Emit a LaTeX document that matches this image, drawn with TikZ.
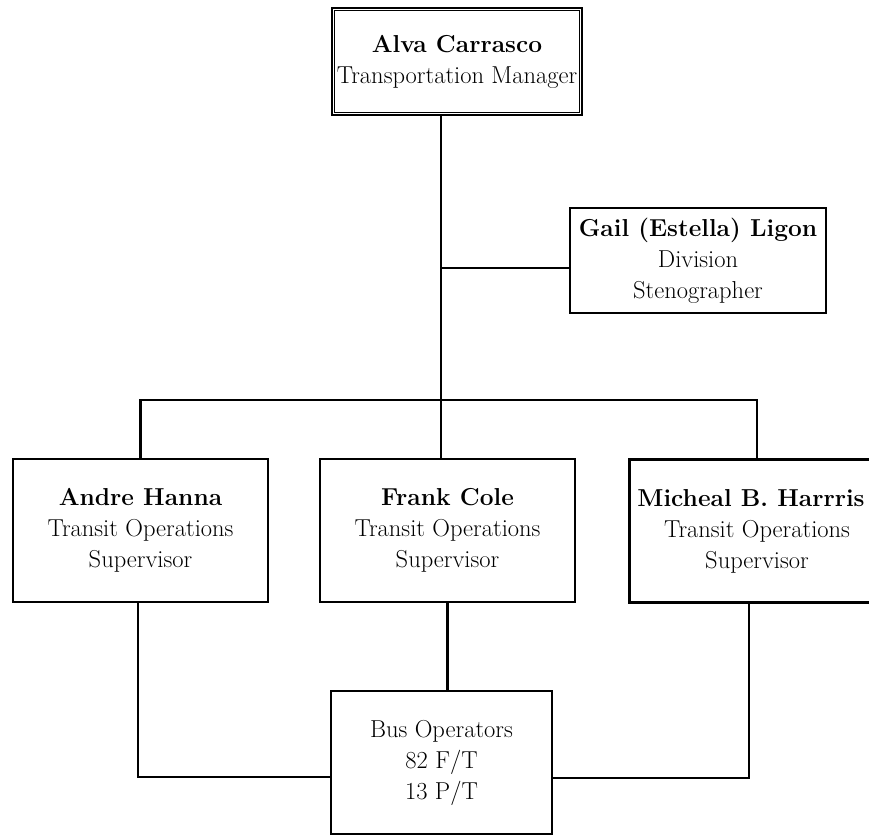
\documentclass[tikz,border=0pt]{standalone}
\usetikzlibrary{positioning}

\begin{document}
\begin{tikzpicture}[x=1pt, y=-1pt, line width=2.2pt,
  box/.style={draw, align=center, inner sep=1pt, font=\fontsize{24.5}{31}\selectfont},
  supbox/.style={box, minimum width=255pt, minimum height=143pt}]
  \clip (0,0) rectangle (869,835);
  \node[box, line width=2.4pt, minimum width=250pt, minimum height=107pt] (mgr) at (457,61.5) {\textbf{Alva Carrasco}\\ Transportation Manager};
  \draw[line width=0.8pt] ([shift={(4pt,-4pt)}]mgr.north west) rectangle ([shift={(-4pt,4pt)}]mgr.south east);
  \node[box, minimum width=256pt, minimum height=105pt] (gail) at (698,260.5) {\textbf{Gail (Estella) Ligon}\\ Division\\ Stenographer};
  \node[supbox] (hanna) at (140.5,530.5) {\textbf{Andre Hanna}\\ Transit Operations\\ Supervisor};
  \node[supbox] (cole) at (447.5,530.5) {\textbf{Frank Cole}\\ Transit Operations\\ Supervisor};
  \node[supbox] (harris) at (757,531) {\textbf{Micheal B. Harrris}\hspace*{12pt}\\ Transit Operations\\ Supervisor};
  \node[box, minimum width=221pt, minimum height=143pt] (ops) at (441.5,762.5) {Bus Operators\\ 82 F/T\\ 13 P/T};
  % trunk and branches
  \coordinate (trunk) at (441,400);
  \coordinate (steno) at (441,268);
  \draw (mgr.south -| trunk) -- (cole.north -| trunk);
  \draw (steno) -- (steno -| gail.west);
  \draw (hanna.north) |- (trunk) -| (harris.north);
  % down to the operators
  \draw (cole.south) -- (ops.north -| cole.south);
  \draw ([xshift=-2.5pt]hanna.south) |- ([yshift=-14.5pt]ops.west);
  \draw ([xshift=-8pt]harris.south) |- ([yshift=-15.5pt]ops.east);
\end{tikzpicture}
\end{document}
